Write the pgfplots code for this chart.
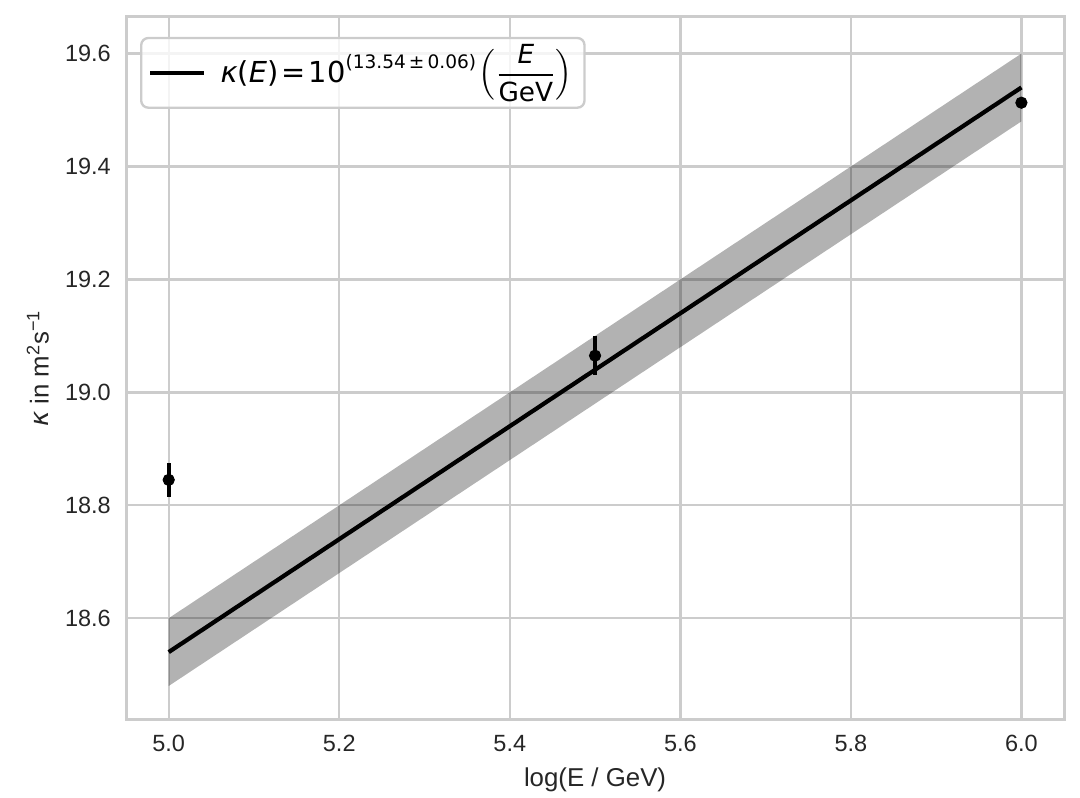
\documentclass[border=0pt]{standalone}
\usepackage{pgfplots}
\pgfplotsset{compat=1.18}
\usepackage{amsmath}
\usepackage{fontspec}
\setmainfont{Liberation Sans}
\newfontfamily\dv{DejaVu Sans}
\definecolor{gridc}{HTML}{CCCCCC}
\definecolor{txt}{HTML}{262626}
\begin{document}
\begin{tikzpicture}
\begin{axis}[name=ax, scale only axis, width=399.5pt, height=299.4pt,
  xmin=4.95, xmax=6.05, ymin=18.42, ymax=19.665,
  xtick={5,5.2,5.4,5.6,5.8,6}, ytick={18.6,18.8,19,19.2,19.4,19.6},
  xticklabels={5.0,5.2,5.4,5.6,5.8,6.0},
  yticklabels={18.6,18.8,19.0,19.2,19.4,19.6},
  major tick length=0pt,
  grid=major, major grid style={gridc, line width=1pt},
  axis line style={gridc, line width=1.25pt},
  ticklabel style={font=\fontsize{10}{12}\selectfont, text=txt},
  xticklabel style={yshift=-3pt},
  yticklabel style={xshift=-3pt},
  xlabel={log(E / GeV)},
  ylabel={{\dv\itshape κ} in m\textsuperscript{2}s\textsuperscript{−1}},
  label style={font=\fontsize{11}{13}\selectfont, text=txt},
  legend style={at={(0.0149,0.9716)}, anchor=north west, draw=gridc, line width=1pt,
    rounded corners=3pt, fill=white, fill opacity=0.8, text opacity=1,
    font=\dv\fontsize{12.3}{15}\selectfont, inner xsep=3pt, inner ysep=0.5pt,
    nodes={text depth=, text height=}},
  legend cell align=left,
]
\addplot[fill=black, fill opacity=0.3, draw=none, forget plot]
  coordinates {(5,18.60) (6,19.60) (6,19.48) (5,18.48)} -- cycle;
\addplot[black, line width=1.8pt,
  legend image code/.code={\draw[line width=1.8pt] (0pt,0pt) -- (23pt,0pt);}]
  coordinates {(5,18.54) (6,19.54)};
\addlegendentry{\hspace*{4pt}$\text{\dv\itshape κ}\text{\dv(}\text{\dv\itshape E}\text{\dv)}\mkern2mu\text{\dv=}\mkern2mu\text{\dv 10}^{\text{\dv\fontsize{7.9}{10}\selectfont(13.54\,±\,0.06)}}\mkern1mu\Bigl(\genfrac{}{}{0.6pt}{0}{\text{\dv\fontsize{11.2}{13}\selectfont\itshape E}}{\text{\dv\fontsize{11.2}{13}\selectfont GeV}}\Bigr)$}
\addplot[only marks, mark=*, mark size=2.4pt, black, forget plot,
  error bars/.cd, y dir=both, y explicit, error mark=none,
  error bar style={line width=1.7pt}]
  coordinates {(5,18.845) +- (0,0.03) (5.5,19.065) +- (0,0.035) (6,19.513) +- (0,0.004)};
\end{axis}
\pgfresetboundingbox
\path ([xshift=-53.7pt,yshift=-33.2pt]ax.south west) rectangle ([xshift=6.8pt,yshift=7.2pt]ax.north east);
\end{tikzpicture}
\end{document}
